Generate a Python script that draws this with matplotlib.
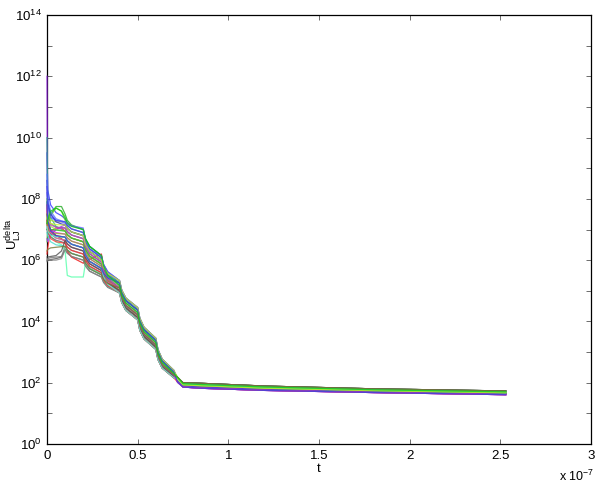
import matplotlib
matplotlib.use('Agg')
import matplotlib.pyplot as plt
import numpy as np
from matplotlib.ticker import FixedLocator, NullFormatter, FixedFormatter

plt.rcParams['font.family'] = ['Liberation Sans', 'DejaVu Sans']
plt.rcParams['mathtext.fontset'] = 'custom'
plt.rcParams['mathtext.rm'] = 'Liberation Sans'
plt.rcParams['mathtext.it'] = 'Liberation Sans'

# time samples (units of 1e-7 s)
t_knots = [0, 0.004, 0.02, 0.05, 0.08,
           0.1, 0.112, 0.135,
           0.2, 0.212, 0.235,
           0.3, 0.312, 0.335,
           0.4, 0.412, 0.435,
           0.5, 0.512, 0.535,
           0.6, 0.612, 0.635,
           0.7, 0.72, 0.75, 0.85, 1.2, 1.8, 2.53]

# log10(U_LJ^delta) per run
log_u_lines = [
    [9.5, 8.3, 7.8, 7.55, 7.45, 7.35, 7.23, 7.12, 7.0, 6.70, 6.45, 6.15, 5.86, 5.62,
     5.33, 5.02, 4.76, 4.45, 4.10, 3.81, 3.45, 3.08, 2.77, 2.40, 2.02, 1.86, 1.82, 1.75, 1.68, 1.61],
    [12.0, 6.75, 6.8, 7.0, 7.1, 7.15, 7.03, 6.92, 6.8, 6.52, 6.29, 6.01, 5.72, 5.46,
     5.17, 4.86, 4.60, 4.29, 3.95, 3.66, 3.31, 2.96, 2.65, 2.30, 2.07, 1.90, 1.86, 1.79, 1.71, 1.64],
    [10.0, 7.9, 7.4, 7.1, 7.0, 6.95, 6.83, 6.72, 6.6, 6.34, 6.13, 5.87, 5.57, 5.31,
     5.01, 4.70, 4.44, 4.13, 3.79, 3.51, 3.16, 2.81, 2.52, 2.21, 2.12, 1.93, 1.90, 1.82, 1.74, 1.67],
    [7.0, 7.1, 7.5, 7.75, 7.75, 7.5, 7.3, 7.15, 7.0, 6.70, 6.45, 6.15, 5.84, 5.57,
     5.25, 4.94, 4.68, 4.37, 4.02, 3.73, 3.38, 3.02, 2.71, 2.35, 2.17, 1.97, 1.94, 1.86, 1.77, 1.70],
    [6.6, 6.9, 7.45, 7.7, 7.6, 7.3, 7.05, 6.92, 6.8, 6.52, 6.29, 6.01, 5.69, 5.41,
     5.09, 4.78, 4.52, 4.21, 3.86, 3.58, 3.23, 2.88, 2.58, 2.26, 2.12, 1.93, 1.90, 1.82, 1.74, 1.67],
    [6.0, 6.0, 6.02, 6.05, 6.1, 6.35, 6.23, 6.12, 6.0, 5.81, 5.64, 5.45, 5.27, 5.11,
     4.93, 4.62, 4.36, 4.05, 3.71, 3.43, 3.09, 2.76, 2.48, 2.16, 2.10, 2.00, 1.98, 1.89, 1.80, 1.73],
    [5.95, 6.05, 6.08, 6.1, 6.12, 6.45, 6.33, 6.22, 6.1, 5.90, 5.72, 5.52, 5.34, 5.19,
     5.01, 4.70, 4.44, 4.13, 3.79, 3.51, 3.16, 2.81, 2.52, 2.21, 2.14, 2.00, 1.98, 1.89, 1.80, 1.73],
    [6.2, 6.4, 6.95, 7.05, 7.05, 6.95, 6.83, 6.72, 6.6, 6.34, 6.13, 5.87, 5.60, 5.36,
     5.09, 4.78, 4.52, 4.21, 3.86, 3.58, 3.23, 2.88, 2.58, 2.26, 2.07, 1.90, 1.86, 1.79, 1.71, 1.64],
    [7.8, 7.3, 7.0, 6.8, 6.7, 6.6, 6.3, 6.1, 5.9, 5.95, 6.02, 6.2, 5.7, 5.42,
     4.93, 4.62, 4.36, 4.05, 3.71, 3.43, 3.09, 2.76, 2.48, 2.16, 2.07, 1.90, 1.86, 1.79, 1.71, 1.64],
    [7.6, 7.45, 7.3, 7.25, 7.25, 7.25, 7.13, 7.02, 6.9, 6.61, 6.37, 6.08, 5.82, 5.59,
     5.33, 5.02, 4.76, 4.45, 4.10, 3.81, 3.45, 3.08, 2.77, 2.40, 2.17, 1.97, 1.94, 1.86, 1.77, 1.70],
    [8.2, 7.7, 7.4, 7.3, 7.25, 7.2, 7.15, 7.12, 7.05, 6.55, 6.35, 6.15, 5.86, 5.62,
     5.33, 5.02, 4.76, 4.45, 4.10, 3.81, 3.45, 3.08, 2.77, 2.40, 2.07, 1.90, 1.86, 1.79, 1.71, 1.64],
    [7.7, 7.3, 7.0, 6.9, 6.87, 6.85, 6.73, 6.62, 6.5, 6.26, 6.05, 5.8, 5.58, 5.39,
     5.17, 4.86, 4.60, 4.29, 3.95, 3.66, 3.31, 2.96, 2.65, 2.30, 2.02, 1.86, 1.82, 1.75, 1.68, 1.61],
    [7.2, 7.0, 6.8, 6.6, 6.5, 6.3, 5.5, 5.45, 5.45, 5.9, 5.75, 5.55, 5.36, 5.20,
     5.01, 4.70, 4.44, 4.13, 3.79, 3.51, 3.16, 2.81, 2.52, 2.21, 2.12, 1.93, 1.90, 1.82, 1.74, 1.67],
    [7.4, 7.1, 6.85, 6.72, 6.68, 6.65, 6.53, 6.42, 6.3, 6.08, 5.88, 5.66, 5.52, 5.39,
     5.25, 4.94, 4.68, 4.37, 4.02, 3.73, 3.38, 3.02, 2.71, 2.35, 2.17, 1.97, 1.94, 1.86, 1.77, 1.70],
    [8.6, 7.9, 7.5, 7.25, 7.18, 7.15, 7.03, 6.92, 6.8, 6.52, 6.29, 6.01, 5.74, 5.52,
     5.25, 4.94, 4.68, 4.37, 4.02, 3.73, 3.38, 3.02, 2.71, 2.35, 2.07, 1.90, 1.86, 1.79, 1.71, 1.64],
    [7.0, 6.9, 6.75, 6.65, 6.6, 6.55, 6.43, 6.32, 6.2, 5.99, 5.80, 5.59, 5.36, 5.16,
     4.93, 4.62, 4.36, 4.05, 3.71, 3.43, 3.09, 2.76, 2.48, 2.16, 2.10, 2.00, 1.98, 1.89, 1.80, 1.73],
    [7.5, 7.2, 6.9, 6.8, 6.77, 6.75, 6.63, 6.52, 6.4, 6.17, 5.96, 5.73, 5.48, 5.26,
     5.01, 4.70, 4.44, 4.13, 3.79, 3.51, 3.16, 2.81, 2.52, 2.21, 2.07, 1.90, 1.86, 1.79, 1.71, 1.64],
    [6.7, 6.6, 6.9, 7.0, 7.05, 7.05, 6.93, 6.82, 6.7, 6.43, 6.21, 5.94, 5.67, 5.44,
     5.17, 4.86, 4.60, 4.29, 3.95, 3.66, 3.31, 2.96, 2.65, 2.30, 2.02, 1.86, 1.82, 1.75, 1.68, 1.61],
    [7.9, 7.4, 7.1, 7.0, 6.97, 6.95, 6.83, 6.72, 6.6, 6.34, 6.13, 5.87, 5.63, 5.42,
     5.17, 4.86, 4.60, 4.29, 3.95, 3.66, 3.31, 2.96, 2.65, 2.30, 2.17, 1.97, 1.94, 1.86, 1.77, 1.70],
    [7.3, 7.0, 6.85, 6.78, 6.76, 6.75, 6.63, 6.52, 6.4, 6.17, 5.96, 5.73, 5.51, 5.31,
     5.09, 4.78, 4.52, 4.21, 3.86, 3.58, 3.23, 2.88, 2.58, 2.26, 2.18, 2.00, 1.98, 1.89, 1.80, 1.73],
    [8.8, 8.0, 7.6, 7.35, 7.28, 7.25, 7.13, 7.02, 6.9, 6.61, 6.37, 6.08, 5.79, 5.54,
     5.25, 4.94, 4.68, 4.37, 4.02, 3.73, 3.38, 3.02, 2.71, 2.35, 2.02, 1.86, 1.82, 1.75, 1.68, 1.61],
    [6.9, 6.8, 6.6, 6.5, 6.47, 6.45, 6.33, 6.22, 6.1, 5.90, 5.72, 5.52, 5.31, 5.14,
     4.93, 4.62, 4.36, 4.05, 3.71, 3.43, 3.09, 2.76, 2.48, 2.16, 2.10, 1.93, 1.90, 1.82, 1.74, 1.67],
    [7.2, 7.0, 6.9, 6.87, 6.86, 6.85, 6.73, 6.62, 6.5, 6.26, 6.05, 5.8, 5.55, 5.34,
     5.09, 4.78, 4.52, 4.21, 3.86, 3.58, 3.23, 2.88, 2.58, 2.26, 2.17, 1.97, 1.94, 1.86, 1.77, 1.70],
    [6.05, 6.02, 6.0, 6.0, 6.05, 6.35, 6.23, 6.12, 6.0, 5.81, 5.64, 5.45, 5.30, 5.16,
     5.01, 4.70, 4.44, 4.13, 3.79, 3.51, 3.16, 2.81, 2.52, 2.21, 2.14, 2.00, 1.98, 1.89, 1.80, 1.73],
    [7.6, 7.2, 6.9, 6.72, 6.67, 6.65, 6.53, 6.42, 6.3, 6.08, 5.88, 5.66, 5.46, 5.29,
     5.09, 4.78, 4.52, 4.21, 3.86, 3.58, 3.23, 2.88, 2.58, 2.26, 2.02, 1.86, 1.82, 1.75, 1.68, 1.61],
    [8.0, 7.5, 7.2, 7.08, 7.06, 7.05, 6.93, 6.82, 6.7, 6.43, 6.21, 5.94, 5.64, 5.39,
     5.09, 4.78, 4.52, 4.21, 3.86, 3.58, 3.23, 2.88, 2.58, 2.26, 2.12, 1.93, 1.90, 1.82, 1.74, 1.67],
    [8.4, 7.8, 7.5, 7.3, 7.27, 7.25, 7.13, 7.02, 6.9, 6.61, 6.37, 6.08, 5.82, 5.59,
     5.33, 5.02, 4.76, 4.45, 4.10, 3.81, 3.45, 3.08, 2.77, 2.40, 2.07, 1.90, 1.86, 1.79, 1.71, 1.64],
    [7.3, 7.0, 6.7, 6.6, 6.57, 6.55, 6.43, 6.32, 6.2, 5.99, 5.80, 5.59, 5.36, 5.16,
     4.93, 4.62, 4.36, 4.05, 3.71, 3.43, 3.09, 2.76, 2.48, 2.16, 2.02, 1.86, 1.82, 1.75, 1.68, 1.61],
    [7.5, 7.2, 7.0, 6.98, 6.96, 6.95, 6.83, 6.72, 6.6, 6.34, 6.13, 5.87, 5.65, 5.47,
     5.25, 4.94, 4.68, 4.37, 4.02, 3.73, 3.38, 3.02, 2.71, 2.35, 2.12, 1.93, 1.90, 1.82, 1.74, 1.67],
    [6.1, 6.1, 6.12, 6.15, 6.3, 6.65, 6.53, 6.42, 6.3, 6.08, 5.88, 5.66, 5.43, 5.24,
     5.01, 4.70, 4.44, 4.13, 3.79, 3.51, 3.16, 2.81, 2.52, 2.21, 2.15, 2.00, 1.98, 1.89, 1.80, 1.73],
    [7.1, 6.95, 6.82, 6.77, 6.76, 6.75, 6.63, 6.52, 6.4, 6.17, 5.96, 5.73, 5.45, 5.21,
     4.93, 4.62, 4.36, 4.05, 3.71, 3.43, 3.09, 2.76, 2.48, 2.16, 2.12, 1.97, 1.94, 1.86, 1.77, 1.70],
    [7.8, 7.4, 7.15, 7.07, 7.06, 7.05, 6.93, 6.82, 6.7, 6.43, 6.21, 5.94, 5.64, 5.39,
     5.09, 4.78, 4.52, 4.21, 3.86, 3.58, 3.23, 2.88, 2.58, 2.26, 2.02, 1.86, 1.82, 1.75, 1.68, 1.61],
    [7.4, 7.3, 7.2, 7.16, 7.15, 7.15, 7.03, 6.92, 6.8, 6.52, 6.29, 6.01, 5.77, 5.57,
     5.33, 5.02, 4.76, 4.45, 4.10, 3.81, 3.45, 3.08, 2.77, 2.40, 2.12, 1.93, 1.90, 1.82, 1.74, 1.67],
    [7.9, 7.3, 6.95, 6.8, 6.77, 6.75, 6.63, 6.52, 6.4, 6.17, 5.96, 5.73, 5.56, 5.42,
     5.25, 4.94, 4.68, 4.37, 4.02, 3.73, 3.38, 3.02, 2.71, 2.35, 2.02, 1.86, 1.82, 1.75, 1.68, 1.61],
    [6.3, 6.35, 6.4, 6.42, 6.44, 6.45, 6.33, 6.22, 6.1, 5.90, 5.72, 5.52, 5.37, 5.24,
     5.09, 4.78, 4.52, 4.21, 3.86, 3.58, 3.23, 2.88, 2.58, 2.26, 2.18, 2.00, 1.98, 1.89, 1.80, 1.73],
    [7.2, 7.3, 7.6, 7.7, 7.6, 7.4, 7.2, 7.1, 7.0, 6.70, 6.45, 6.15, 5.81, 5.51,
     5.17, 4.86, 4.60, 4.29, 3.95, 3.66, 3.31, 2.96, 2.65, 2.30, 2.17, 1.97, 1.94, 1.86, 1.77, 1.70],
]

line_colors = ['#3333ff', '#9922ee', '#22aa88', '#22aa22', '#55cc22', '#555555',
               '#777777', '#ff2222', '#ee1111', '#bbdd22', '#6666ff', '#dd22dd',
               '#55ffaa', '#33cc66', '#2222cc', '#666666', '#ee3333', '#aa44ff',
               '#88ee44', '#227722', '#5577ff', '#44ddcc', '#99aa33', '#888888',
               '#ff44aa', '#44bb44', '#4444ee', '#ff3333', '#33bb33', '#505050',
               '#66eedd', '#cc33cc', '#ccee33', '#3344dd', '#777733', '#11cc11']

x_ticks = [0, 0.5, 1, 1.5, 2, 2.5, 3]
x_tick_labels = ['0', '0.5', '1', '1.5', '2', '2.5', '3']
y_major_exp = [0, 2, 4, 6, 8, 10, 12, 14]
y_minor_exp = [1, 3, 5, 7, 9, 11, 13]

fig = plt.figure(figsize=(5.99, 4.83), dpi=100)
ax = fig.add_axes([47 / 599, 39 / 483, 544 / 599, 429 / 483])

for row, c in zip(log_u_lines, line_colors):
    ax.semilogy(t_knots, 10.0 ** np.array(row), color=c, lw=0.9, alpha=0.8,
                zorder=3, clip_on=False)

ax.set_xlim(0, 3)
ax.set_ylim(1, 1e14)
ax.xaxis.set_major_locator(FixedLocator(x_ticks))
ax.xaxis.set_major_formatter(FixedFormatter(x_tick_labels))
ax.yaxis.set_major_locator(FixedLocator([10.0 ** e for e in y_major_exp]))
ax.yaxis.set_major_formatter(FixedFormatter([r'$10^{%d}$' % e for e in y_major_exp]))
ax.yaxis.set_minor_locator(FixedLocator([10.0 ** e for e in y_minor_exp]))
ax.yaxis.set_minor_formatter(NullFormatter())

ax.tick_params(which='both', direction='in', top=True, right=True,
               length=3.6, width=0.6, color='#555555', labelsize=9.5,
               labelcolor='black', pad=4)
for s in ax.spines.values():
    s.set_linewidth(0.9)
    s.set_color('black')

ax.set_xlabel('t', fontsize=9.5, labelpad=1)
ax.set_ylabel(r'$\mathrm{U}_{\mathrm{LJ}}^{\mathrm{delta}}$', fontsize=9.5)
ax.yaxis.set_label_coords(-0.042, 0.49)
fig.text(559 / 599, 1 - 476 / 483, r'x 10$^{-7}$', fontsize=9, va='center', ha='left')

fig.savefig('out.png', dpi=100)
